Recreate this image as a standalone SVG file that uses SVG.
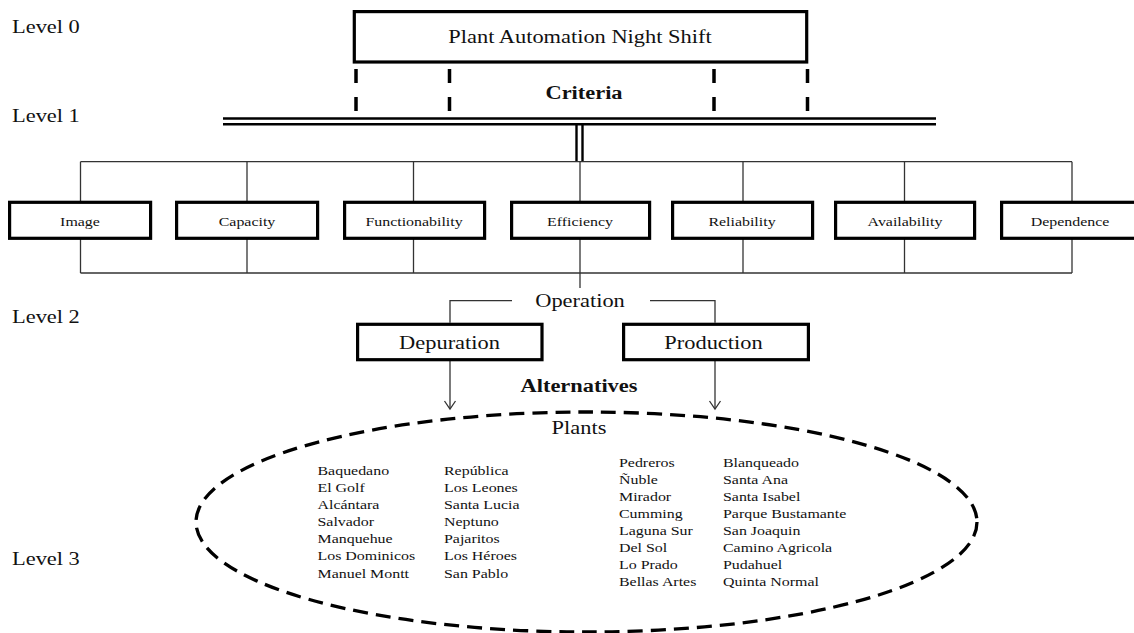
<svg xmlns="http://www.w3.org/2000/svg" width="1134" height="633" viewBox="0 0 1134 633">
<style>
  .t { font-family: "Liberation Serif", "Times New Roman", serif; fill: #111; }
  .big { font-size: 19px; }
  .bold { font-weight: bold; }
  .lab { font-size: 13.5px; text-anchor: middle; }
  .pl { font-size: 13.5px; }
  .mid { text-anchor: middle; }
  .box { fill: #fff; stroke: #000; stroke-width: 3.2; }
  .con { fill: none; stroke: #333; stroke-width: 1.3; }
  .dbl { fill: none; stroke: #000; stroke-width: 2.4; }
  .dash { fill: none; stroke: #000; stroke-width: 3.5; stroke-dasharray: 14 14; }
</style>
<defs>
  <marker id="arr" viewBox="-10 -7 12 14" refX="0" refY="0" markerWidth="12" markerHeight="14" markerUnits="userSpaceOnUse" orient="auto" overflow="visible">
    <path d="M-8,-5.5 L0,0 L-8,5.5" fill="none" stroke="#333" stroke-width="1.3"/>
  </marker>
</defs>
<rect width="1134" height="633" fill="#fff"/>

<g id="levels">
  <text class="t big" transform="translate(12,33) scale(1.18,1)">Level 0</text>
  <text class="t big" transform="translate(12,122) scale(1.18,1)">Level 1</text>
  <text class="t big" transform="translate(12,323) scale(1.18,1)">Level 2</text>
  <text class="t big" transform="translate(12,565) scale(1.18,1)">Level 3</text>
</g>

<g id="connectors">
  <!-- dashed links from goal -->
  <line class="dash" x1="356" y1="69" x2="356" y2="111"/>
  <line class="dash" x1="449.5" y1="69" x2="449.5" y2="111"/>
  <line class="dash" x1="714" y1="69" x2="714" y2="111"/>
  <line class="dash" x1="807.5" y1="69" x2="807.5" y2="111"/>
  <!-- double bar -->
  <line class="dbl" x1="223" y1="118.5" x2="936" y2="118.5"/>
  <line class="dbl" x1="223" y1="124.3" x2="936" y2="124.3"/>
  <line class="dbl" x1="576.5" y1="124" x2="576.5" y2="161" stroke-width="2"/>
  <line class="dbl" x1="582.5" y1="124" x2="582.5" y2="161" stroke-width="2"/>
  <!-- criteria top bus -->
  <line class="con" x1="80.5" y1="161.7" x2="1072" y2="161.7"/>
  <line class="con" x1="80.5" y1="161.7" x2="80.5" y2="201"/>
  <line class="con" x1="247" y1="161.7" x2="247" y2="201"/>
  <line class="con" x1="413.5" y1="161.7" x2="413.5" y2="201"/>
  <line class="con" x1="580" y1="161.7" x2="580" y2="201"/>
  <line class="con" x1="743" y1="161.7" x2="743" y2="201"/>
  <line class="con" x1="904.5" y1="161.7" x2="904.5" y2="201"/>
  <line class="con" x1="1072" y1="161.7" x2="1072" y2="201"/>
  <!-- criteria bottom bus -->
  <line class="con" x1="80.5" y1="273" x2="1072" y2="273"/>
  <line class="con" x1="80.5" y1="239" x2="80.5" y2="273"/>
  <line class="con" x1="247" y1="239" x2="247" y2="273"/>
  <line class="con" x1="413.5" y1="239" x2="413.5" y2="273"/>
  <line class="con" x1="580" y1="239" x2="580" y2="288"/>
  <line class="con" x1="743" y1="239" x2="743" y2="273"/>
  <line class="con" x1="904.5" y1="239" x2="904.5" y2="273"/>
  <line class="con" x1="1072" y1="239" x2="1072" y2="273"/>
  <!-- operation split -->
  <polyline class="con" points="512,300.7 450,300.7 450,322.7"/>
  <polyline class="con" points="650,300.7 715,300.7 715,322.7"/>
  <!-- arrows to plants -->
  <line class="con" x1="450" y1="361" x2="450" y2="409" marker-end="url(#arr)"/>
  <line class="con" x1="715" y1="361" x2="715" y2="409" marker-end="url(#arr)"/>
</g>

<g id="goal">
  <rect class="box" x="354.3" y="11.6" width="452.4" height="50.4"/>
  <text class="t big mid" transform="translate(580,43.3) scale(1.18,1)">Plant Automation Night Shift</text>
</g>

<g id="criteria-label">
  <text class="t big bold mid" transform="translate(584,98.5) scale(1.18,1)">Criteria</text>
</g>

<g id="node-image">
  <rect class="box" x="9.6" y="202.3" width="141" height="36"/>
  <text class="t lab" transform="translate(80,225.5) scale(1.18,1)">Image</text>
</g>
<g id="node-capacity">
  <rect class="box" x="176.6" y="202.3" width="141" height="36"/>
  <text class="t lab" transform="translate(247,225.5) scale(1.18,1)">Capacity</text>
</g>
<g id="node-functionability">
  <rect class="box" x="344.6" y="202.3" width="140" height="36"/>
  <text class="t lab" transform="translate(414,225.5) scale(1.18,1)">Functionability</text>
</g>
<g id="node-efficiency">
  <rect class="box" x="511.6" y="202.3" width="138" height="36"/>
  <text class="t lab" transform="translate(580,225.5) scale(1.18,1)">Efficiency</text>
</g>
<g id="node-reliability">
  <rect class="box" x="672.6" y="202.3" width="140" height="36"/>
  <text class="t lab" transform="translate(742,225.5) scale(1.18,1)">Reliability</text>
</g>
<g id="node-availability">
  <rect class="box" x="835.6" y="202.3" width="139" height="36"/>
  <text class="t lab" transform="translate(905,225.5) scale(1.18,1)">Availability</text>
</g>
<g id="node-dependence">
  <rect class="box" x="1001.6" y="202.3" width="142" height="36"/>
  <text class="t lab" transform="translate(1070,225.5) scale(1.18,1)">Dependence</text>
</g>

<g id="operation-label">
  <text class="t big mid" transform="translate(580,306.7) scale(1.18,1)">Operation</text>
</g>

<g id="node-depuration">
  <rect class="box" x="357.6" y="324.3" width="184.4" height="35.4"/>
  <text class="t big mid" transform="translate(449.5,348.5) scale(1.18,1)">Depuration</text>
</g>
<g id="node-production">
  <rect class="box" x="623.6" y="324.3" width="184.8" height="35.4"/>
  <text class="t big mid" transform="translate(713.5,348.5) scale(1.18,1)">Production</text>
</g>

<g id="alternatives-label">
  <text class="t big bold mid" transform="translate(579,391.5) scale(1.18,1)">Alternatives</text>
</g>

<g id="node-plants">
  <ellipse cx="586.5" cy="522" rx="390.5" ry="110" fill="none" stroke="#000" stroke-width="3.3" stroke-dasharray="15 8"/>
  <text class="t big mid" transform="translate(579,433.5) scale(1.18,1)">Plants</text>
  <text class="t pl" transform="translate(317.5,475) scale(1.18,1)">
    <tspan x="0" y="0">Baquedano</tspan>
    <tspan x="0" dy="17.1">El Golf</tspan>
    <tspan x="0" dy="17.1">Alcántara</tspan>
    <tspan x="0" dy="17.1">Salvador</tspan>
    <tspan x="0" dy="17.1">Manquehue</tspan>
    <tspan x="0" dy="17.1">Los Dominicos</tspan>
    <tspan x="0" dy="17.1">Manuel Montt</tspan>
  </text>
  <text class="t pl" transform="translate(444,475) scale(1.18,1)">
    <tspan x="0" y="0">República</tspan>
    <tspan x="0" dy="17.1">Los Leones</tspan>
    <tspan x="0" dy="17.1">Santa Lucia</tspan>
    <tspan x="0" dy="17.1">Neptuno</tspan>
    <tspan x="0" dy="17.1">Pajaritos</tspan>
    <tspan x="0" dy="17.1">Los Héroes</tspan>
    <tspan x="0" dy="17.1">San Pablo</tspan>
  </text>
  <text class="t pl" transform="translate(619,466.7) scale(1.18,1)">
    <tspan x="0" y="0">Pedreros</tspan>
    <tspan x="0" dy="17.1">Ñuble</tspan>
    <tspan x="0" dy="17.1">Mirador</tspan>
    <tspan x="0" dy="17.1">Cumming</tspan>
    <tspan x="0" dy="17.1">Laguna Sur</tspan>
    <tspan x="0" dy="17.1">Del Sol</tspan>
    <tspan x="0" dy="17.1">Lo Prado</tspan>
    <tspan x="0" dy="17.1">Bellas Artes</tspan>
  </text>
  <text class="t pl" transform="translate(723,466.7) scale(1.18,1)">
    <tspan x="0" y="0">Blanqueado</tspan>
    <tspan x="0" dy="17.1">Santa Ana</tspan>
    <tspan x="0" dy="17.1">Santa Isabel</tspan>
    <tspan x="0" dy="17.1">Parque Bustamante</tspan>
    <tspan x="0" dy="17.1">San Joaquin</tspan>
    <tspan x="0" dy="17.1">Camino Agricola</tspan>
    <tspan x="0" dy="17.1">Pudahuel</tspan>
    <tspan x="0" dy="17.1">Quinta Normal</tspan>
  </text>
</g>
</svg>
